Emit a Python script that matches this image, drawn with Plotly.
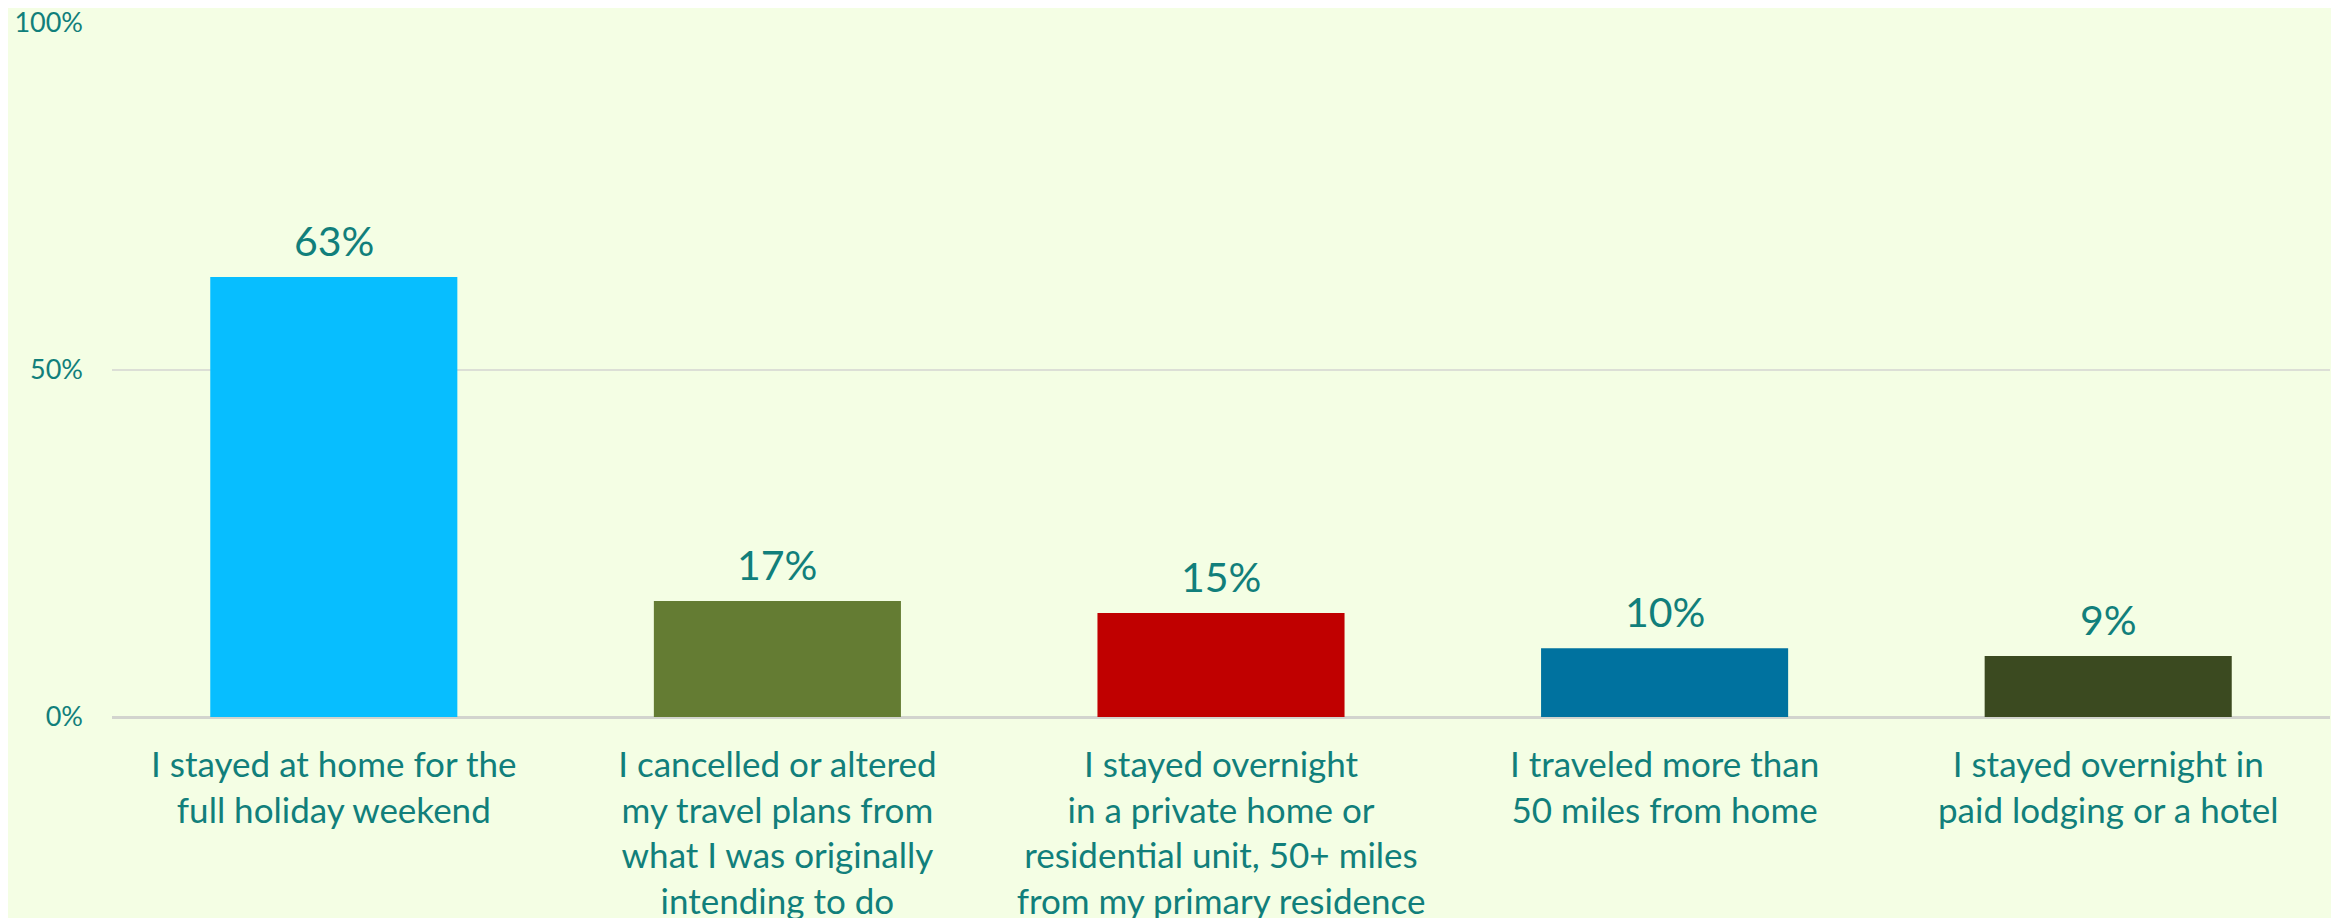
"""Holiday weekend travel behaviour - share of respondents per answer"""
import plotly.graph_objects as go

categories = [
    "I stayed at home for the<br>full holiday weekend",
    "I cancelled or altered<br>my travel plans from<br>what I was originally<br>intending to do",
    "I stayed overnight<br>in a private home or<br>residential unit, 50+ miles<br>from my primary residence",
    "I traveled more than<br>50 miles from home",
    "I stayed overnight in<br>paid lodging or a hotel",
]
shares = [63.4, 16.7, 15.0, 9.9, 8.8]
bar_colors = ["#07BEFF", "#647C33", "#C00000", "#00729F", "#3B4A20"]
y_ticks = [0, 50, 100]
y_tick_labels = ["0%", "50%", "100%"]

TEAL = "#117F7B"
BG = "#F4FEE4"
LABEL_FONT = "Lato, sans-serif"

fig = go.Figure()

#One bar per answer, each in its own colour
fig.add_trace(go.Bar(x=categories, y=shares, marker={"color": bar_colors, "line": {"width": 0}},
                     hoverinfo="skip", showlegend=False))

#Value labels sit a little above the top of each bar
for cat, val in zip(categories, shares):
    fig.add_annotation(x=cat, y=val, text=f"{val:.0f}%", showarrow=False,
                       xanchor="center", yanchor="bottom", yshift=10,
                       font={"family": LABEL_FONT, "size": 41, "color": TEAL})

#Page body adds an 8px margin, so the figure is kept 16px smaller than the window
fig.update_layout(width=2331, height=910,
                  paper_bgcolor=BG, plot_bgcolor=BG,
                  margin={"l": 104, "r": 9, "t": 15, "b": 201, "autoexpand": False},
                  bargap=0.443,
                  xaxis={"tickfont": {"family": LABEL_FONT, "size": 35, "color": TEAL},
                         "ticks": "", "showline": False, "showgrid": False,
                         "ticklabelstandoff": 24, "automargin": False,
                         "ticklabeloverflow": "allow"},
                  yaxis={"range": [0, 100], "tickvals": y_ticks, "ticktext": y_tick_labels,
                         "tickfont": {"family": LABEL_FONT, "size": 27, "color": TEAL},
                         "showgrid": True, "gridcolor": "#DCDFD6", "gridwidth": 2,
                         "zeroline": True, "zerolinecolor": "#D2D4CE", "zerolinewidth": 3,
                         "ticklabelstandoff": 28, "showline": False, "automargin": False,
                         "ticklabeloverflow": "allow"})

fig.write_html("out.html")
